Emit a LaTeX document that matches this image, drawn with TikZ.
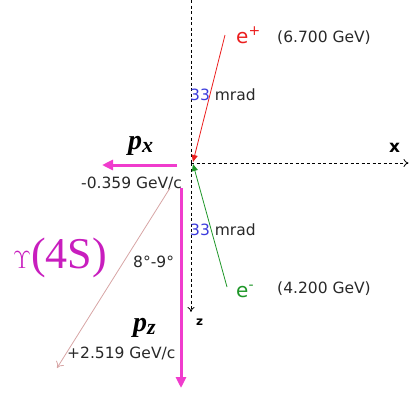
\documentclass[tikz,border=0pt]{standalone}
\usepackage{fontspec}
\setmainfont{DejaVu Sans}
\newfontfamily\serifx{Liberation Serif}
\usetikzlibrary{arrows.meta}
\definecolor{mag}{RGB}{240,60,205}
\definecolor{ups}{RGB}{200,30,190}
\definecolor{rosy}{RGB}{215,165,165}
\definecolor{ered}{RGB}{235,30,30}
\definecolor{egreen}{RGB}{30,150,40}
\definecolor{mblue}{RGB}{60,60,220}
\definecolor{txt}{RGB}{40,40,40}
\tikzset{
  axis/.style={black, line width=0.8pt, dash pattern=on 3pt off 2.5pt},
  beam/.style={line width=0.8pt},
  mom/.style={mag, line width=3pt, -{Triangle[length=11pt,width=10pt]}},
  lbl/.style={font=\fontsize{15.5}{17}\selectfont, text=txt, inner sep=0pt},
  elbl/.style={font=\fontsize{20}{22}\selectfont, anchor=base west, inner sep=0pt},
  plbl/.style={font=\serifx\bfseries\itshape\fontsize{28}{30}\selectfont, inner sep=0pt},
}
\newcommand{\psub}[1]{\raisebox{-3pt}{\fontsize{22}{24}\selectfont #1}}
\begin{document}
\begin{tikzpicture}[x=1pt,y=-1pt]
\useasboundingbox (0,0) rectangle (409,392);
% origin
\coordinate (O) at (191,163);
\coordinate (Otop) at (191,0);
\coordinate (zend) at (191,312);
\coordinate (xend) at (408.5,163);
\draw[axis] (Otop) -- (O);
\draw[axis,-{To[length=5pt,width=7pt]}] (O) -- (zend);
\draw[axis,-{To[length=5pt,width=8pt]}] (O) -- (xend);
% beams
\coordinate (epstart) at (225,35);
\coordinate (epend) at (193,162);
\draw[beam, ered, -{Triangle[length=7pt,width=6pt]}] (epstart) -- (epend);
\coordinate (emstart) at (227,287);
\coordinate (emend) at (193,164);
\draw[beam, egreen, -{Triangle[length=7pt,width=6pt]}] (emstart) -- (emend);
% labels of beams
\node[elbl, text=ered] (ep) at (236,43) {e\textsuperscript{+}};
\node[lbl, anchor=base west] (epE) at (277,42) {(6.700 GeV)};
\node[elbl, text=egreen] (em) at (236,297) {e\textsuperscript{-}};
\node[lbl, anchor=base west] (emE) at (277,293) {(4.200 GeV)};
\node[lbl, anchor=base west] (mr1) at (190,100) {\textcolor{mblue}{33} mrad};
\node[lbl, anchor=base west] (mr2) at (190,235) {\textcolor{mblue}{33} mrad};
% axis labels
\node[font=\bfseries\fontsize{17}{18}\selectfont, anchor=base west, inner sep=0pt] (xl) at (389,152) {x};
\node[font=\bfseries\fontsize{12}{13}\selectfont, anchor=base west, inner sep=0pt] (zl) at (196,325) {z};
% momenta
\coordinate (pxs) at (177,165);
\coordinate (pxe) at (102,165);
\draw[mom] (pxs) -- (pxe);
\node[plbl, anchor=base west] (px) at (128,149) {p\psub{x}};
\node[lbl, anchor=base west] (pxv) at (81,188) {-0.359 GeV/c};
\coordinate (pzs) at (181,188);
\coordinate (pze) at (181,388);
\draw[mom] (pzs) -- (pze);
\node[plbl, anchor=base west] (pz) at (133,331) {p\psub{z}};
\node[lbl, anchor=base west] (pzv) at (67,358) {+2.519 GeV/c};
% Upsilon
\coordinate (us) at (170,188);
\coordinate (ue) at (57,368);
\draw[rosy, line width=0.8pt, -{To[length=6pt,width=9pt]}] (us) -- (ue);
\node[font=\serifx\fontsize{44}{46}\selectfont, text=ups, anchor=base west, inner sep=0pt] (U) at (13,268) {$\Upsilon$(4S)};
\node[lbl, anchor=base west] (ang) at (133,267) {8°-9°};
\end{tikzpicture}
\end{document}
